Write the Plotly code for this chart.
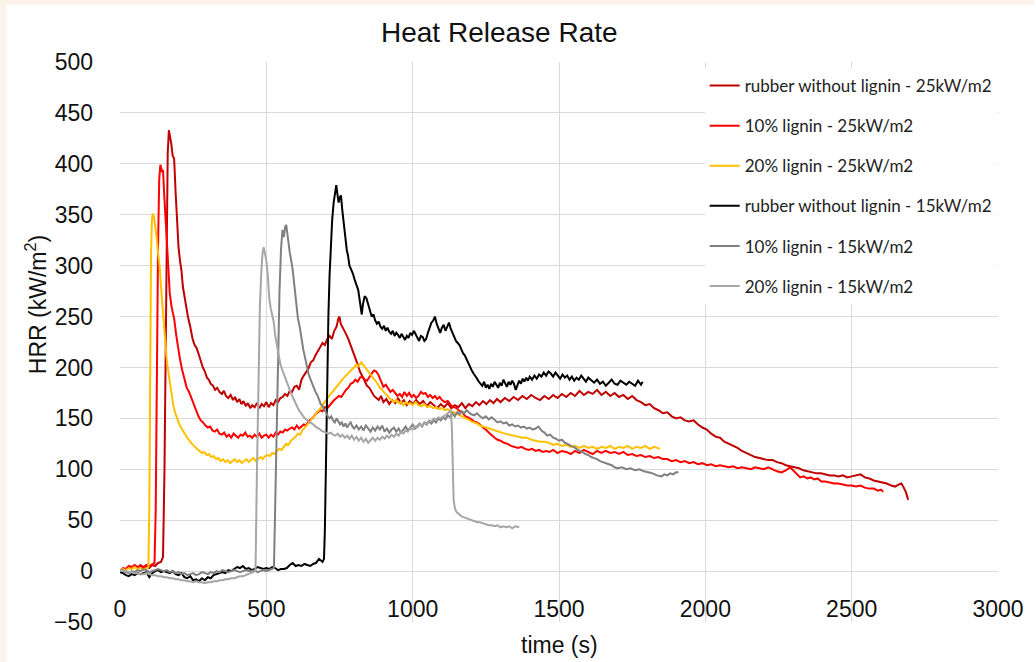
import plotly.graph_objects as go

# ---------------- data (time s, HRR kW/m2) ----------------
rubber_25 = [(0,0),(10,2),(20,1),(30,4),(40,3),(50,5),(60,3),(70,6),(80,4),(90,5),(100,3),(110,6),(120,5),(130,8),(140,9),(147,14),(152,100),(156,220),(159,330),(163,410),(167,433),(171,428),(175,420),(180,408),(185,405),(190,372),(195,345),(200,318),(205,305),(210,295),(215,279),(220,270),(225,262),(232,250),(240,240),(248,228),(255,222),(262,219),(270,212),(277,205),(283,200),(290,196),(297,190),(303,188),(310,184),(318,182),(325,178),(332,180),(340,176),(348,174),(355,177),(362,172),(370,170),(378,173),(386,168),(393,171),(400,166),(408,169),(415,164),(422,167),(430,162),(437,165),(445,160),(452,163),(460,161),(468,165),(476,160),(484,164),(492,162),(500,166),(508,161),(516,165),(524,163),(532,168),(540,166),(548,170),(556,171),(564,174),(572,172),(580,177),(588,176),(596,181),(604,182),(612,178),(620,188),(628,192),(636,196),(644,199),(652,205),(660,207),(668,212),(676,216),(684,219),(692,224),(700,222),(708,228),(716,231),(724,228),(732,236),(740,240),(746,248),(750,250),(754,243),(760,240),(766,236),(772,233),(780,228),(788,222),(796,217),(804,210),(812,203),(820,196),(828,191),(836,186),(844,182),(852,180),(860,176),(868,172),(876,170),(884,168),(892,172),(900,166),(910,169),(920,164),(930,168),(940,165),(950,170),(960,165),(970,168),(980,163),(990,167),(1000,164),(1012,168),(1024,164),(1036,167),(1048,162),(1060,166),(1072,163),(1084,160),(1096,164),(1108,161),(1120,165),(1132,160),(1144,163),(1156,161),(1168,165),(1180,160),(1192,164),(1204,162),(1216,166),(1228,163),(1240,167),(1252,164),(1264,168),(1276,165),(1288,169),(1300,166),(1315,170),(1330,167),(1345,171),(1360,168),(1375,172),(1390,169),(1405,173),(1420,170),(1435,168),(1450,172),(1465,169),(1480,173),(1495,170),(1510,174),(1525,171),(1540,175),(1555,172),(1570,177),(1585,173),(1600,176),(1615,174),(1630,178),(1645,173),(1660,176),(1675,172),(1690,175),(1705,171),(1720,173),(1735,169),(1750,172),(1765,168),(1780,166),(1795,163),(1810,164),(1825,160),(1840,158),(1855,155),(1870,156),(1885,152),(1900,150),(1915,151),(1930,148),(1945,147),(1960,148),(1975,144),(1990,141),(2005,139),(2020,135),(2035,132),(2050,131),(2065,127),(2080,125),(2095,123),(2110,121),(2125,118),(2140,116),(2155,114),(2170,112),(2185,111),(2200,110),(2215,109),(2230,109),(2245,107),(2260,106),(2275,104),(2290,103),(2305,102),(2320,101),(2335,99),(2350,98),(2365,97),(2380,96),(2395,96),(2410,95),(2425,94),(2440,94),(2455,93),(2470,94),(2485,92),(2500,93),(2515,94),(2530,95),(2545,92),(2560,91),(2575,89),(2590,88),(2605,87),(2620,86),(2635,84),(2648,83),(2660,85),(2670,86),(2678,82),(2686,77),(2693,70)]

lignin10_25 = [(0,0),(10,3),(20,2),(30,5),(40,4),(50,6),(60,4),(70,5),(80,3),(90,6),(100,5),(110,7),(118,8),(122,60),(126,200),(130,320),(134,385),(138,399),(143,393),(147,394),(151,370),(155,350),(160,315),(165,292),(170,273),(176,260),(185,248),(192,232),(198,220),(205,208),(212,198),(220,188),(228,180),(236,176),(244,170),(252,163),(260,158),(268,152),(276,148),(284,146),(292,143),(300,141),(308,142),(316,138),(324,137),(332,139),(340,135),(348,134),(356,136),(364,132),(372,134),(380,131),(388,135),(396,133),(404,131),(412,134),(420,133),(428,136),(436,132),(444,133),(452,131),(460,134),(468,132),(476,135),(484,131),(492,133),(500,134),(508,131),(516,134),(524,132),(532,136),(540,134),(548,137),(556,136),(564,139),(572,138),(580,140),(588,141),(596,139),(604,143),(612,140),(620,142),(628,144),(636,143),(644,147),(652,149),(660,151),(668,154),(676,156),(684,158),(692,157),(700,161),(708,160),(716,163),(724,165),(732,168),(740,170),(748,172),(756,171),(764,175),(772,178),(780,180),(788,184),(796,185),(804,188),(812,186),(820,190),(828,191),(836,188),(844,187),(852,191),(860,194),(868,197),(876,196),(884,192),(892,186),(900,181),(908,183),(916,179),(924,176),(932,178),(940,175),(948,172),(956,174),(964,171),(972,176),(980,172),(988,175),(996,171),(1004,173),(1012,170),(1020,172),(1028,176),(1036,174),(1044,175),(1052,171),(1060,173),(1068,170),(1076,172),(1084,169),(1092,171),(1100,168),(1110,166),(1120,167),(1130,163),(1140,161),(1150,160),(1160,157),(1170,156),(1180,152),(1190,151),(1200,149),(1210,147),(1220,146),(1230,144),(1240,141),(1250,139),(1260,136),(1270,133),(1280,131),(1290,129),(1300,128),(1312,126),(1324,125),(1336,123),(1348,122),(1360,121),(1372,122),(1384,120),(1396,119),(1408,120),(1420,118),(1432,119),(1444,117),(1456,118),(1468,117),(1480,119),(1495,116),(1510,118),(1525,117),(1540,115),(1555,118),(1570,116),(1585,119),(1600,117),(1615,115),(1630,118),(1645,116),(1660,118),(1675,116),(1690,117),(1705,115),(1720,117),(1735,114),(1750,115),(1765,113),(1780,114),(1795,112),(1810,113),(1825,111),(1840,112),(1855,110),(1870,110),(1885,108),(1900,109),(1915,107),(1930,108),(1945,106),(1960,107),(1975,105),(1990,106),(2005,104),(2020,105),(2035,103),(2050,104),(2065,103),(2080,102),(2095,103),(2110,101),(2125,102),(2140,101),(2155,100),(2170,102),(2185,101),(2200,100),(2215,102),(2230,100),(2245,98),(2260,97),(2275,99),(2290,102),(2300,99),(2312,95),(2324,92),(2336,93),(2348,91),(2360,92),(2372,90),(2384,91),(2396,88),(2410,88),(2425,87),(2440,86),(2455,86),(2470,85),(2485,84),(2500,84),(2515,83),(2530,84),(2545,82),(2560,81),(2575,81),(2590,79),(2600,80),(2608,78)]

lignin20_25 = [(0,0),(10,2),(20,1),(30,3),(40,2),(50,4),(60,2),(70,3),(80,1),(90,3),(97,4),(100,60),(103,200),(106,310),(109,345),(112,351),(116,348),(120,340),(125,328),(130,312),(136,298),(142,272),(147,253),(153,228),(159,210),(165,196),(170,185),(176,172),(182,163),(188,156),(194,150),(200,146),(208,141),(216,137),(224,134),(232,130),(240,127),(248,124),(256,122),(264,120),(272,118),(280,116),(288,117),(296,114),(304,115),(312,112),(320,113),(328,110),(336,111),(344,108),(352,110),(360,107),(368,109),(376,106),(384,108),(392,110),(400,107),(408,109),(416,106),(424,108),(432,110),(440,107),(448,109),(456,111),(464,108),(472,110),(480,112),(488,110),(496,113),(504,114),(512,113),(520,116),(528,115),(536,118),(544,120),(552,119),(560,122),(568,125),(576,124),(584,128),(592,130),(600,132),(608,135),(616,134),(624,139),(632,141),(640,144),(648,146),(656,150),(664,152),(672,156),(680,158),(688,161),(696,165),(704,168),(712,171),(720,174),(728,177),(736,180),(744,183),(752,186),(760,189),(768,191),(776,193),(784,196),(792,198),(800,200),(808,203),(816,201),(824,205),(832,202),(840,199),(848,196),(856,193),(864,190),(872,188),(880,184),(888,180),(896,178),(904,175),(912,173),(920,170),(928,168),(936,166),(944,168),(952,165),(960,166),(968,163),(976,166),(984,164),(992,165),(1000,163),(1010,166),(1020,163),(1030,162),(1040,164),(1050,161),(1060,162),(1070,160),(1080,161),(1090,159),(1100,160),(1110,158),(1120,159),(1130,157),(1140,156),(1150,155),(1160,153),(1170,152),(1180,150),(1190,149),(1200,147),(1210,146),(1220,145),(1230,143),(1240,142),(1250,141),(1260,140),(1270,139),(1280,138),(1290,137),(1300,136),(1315,135),(1330,134),(1345,133),(1360,132),(1375,131),(1390,131),(1405,129),(1420,128),(1435,127),(1450,127),(1465,126),(1480,124),(1495,125),(1510,123),(1525,124),(1540,122),(1555,123),(1570,121),(1585,123),(1600,121),(1615,122),(1630,120),(1645,122),(1660,121),(1675,123),(1690,120),(1705,122),(1720,121),(1735,123),(1750,120),(1765,122),(1780,121),(1795,123),(1810,120),(1825,122),(1845,120)]

rubber_15 = [(0,-1),(10,-2),(20,-4),(30,-5),(40,-3),(50,-4),(60,-2),(70,-3),(80,-2),(90,-1),(100,-6),(110,-2),(120,0),(130,1),(140,-1),(150,0),(160,-1),(170,-2),(180,0),(190,-3),(200,-4),(210,-2),(220,-6),(230,-7),(240,-5),(250,-9),(260,-8),(270,-10),(280,-7),(290,-9),(300,-6),(310,-7),(320,-4),(330,-3),(340,-2),(350,-1),(360,-2),(370,1),(380,0),(390,2),(400,4),(410,3),(420,5),(430,2),(440,3),(450,1),(460,2),(470,4),(480,3),(490,2),(500,3),(510,2),(520,4),(530,3),(540,1),(550,2),(560,2),(570,3),(580,6),(590,8),(600,5),(610,6),(620,5),(630,7),(640,6),(650,5),(660,7),(670,8),(680,12),(686,10),(692,9),(697,12),(700,40),(704,110),(708,190),(712,250),(716,290),(720,320),(725,345),(730,362),(735,372),(739,379),(743,370),(747,362),(751,367),(755,369),(759,356),(763,345),(767,340),(771,327),(775,315),(779,310),(784,300),(790,296),(796,292),(802,286),(808,280),(814,276),(818,268),(822,258),(826,252),(830,262),(836,270),(842,268),(848,262),(854,255),(860,250),(866,252),(872,246),(878,243),(884,245),(890,240),(896,238),(902,241),(908,236),(914,239),(920,235),(926,233),(932,236),(938,231),(944,234),(950,232),(956,229),(962,233),(968,230),(974,227),(980,231),(986,229),(992,234),(998,232),(1004,236),(1010,233),(1016,229),(1022,226),(1028,231),(1034,230),(1040,226),(1046,228),(1052,234),(1058,240),(1064,244),(1070,246),(1076,250),(1082,243),(1088,238),(1094,234),(1100,239),(1106,242),(1112,236),(1118,240),(1124,244),(1130,238),(1136,234),(1142,231),(1148,226),(1154,224),(1160,222),(1166,218),(1172,214),(1178,212),(1184,208),(1190,204),(1196,200),(1202,197),(1208,194),(1214,192),(1220,189),(1226,186),(1232,184),(1238,182),(1244,186),(1250,180),(1256,183),(1262,179),(1268,184),(1274,181),(1280,186),(1286,183),(1292,180),(1298,185),(1304,182),(1310,188),(1316,184),(1322,181),(1328,186),(1334,183),(1340,187),(1346,184),(1352,178),(1358,183),(1364,187),(1370,184),(1376,189),(1382,186),(1388,190),(1394,187),(1400,191),(1408,188),(1416,192),(1424,189),(1432,193),(1440,191),(1448,195),(1456,192),(1464,196),(1472,194),(1480,191),(1488,195),(1496,192),(1504,189),(1512,193),(1520,190),(1528,192),(1536,188),(1544,191),(1552,187),(1560,190),(1568,188),(1576,192),(1584,189),(1592,186),(1600,190),(1610,187),(1620,185),(1630,188),(1640,184),(1650,186),(1660,182),(1670,185),(1680,188),(1690,184),(1700,183),(1710,187),(1720,185),(1730,183),(1740,186),(1750,184),(1760,182),(1770,187),(1780,183),(1786,186)]

lignin10_15 = [(0,0),(10,1),(20,-1),(30,-2),(40,0),(50,-1),(60,1),(70,0),(80,2),(90,1),(100,-1),(110,0),(120,1),(130,2),(140,1),(150,0),(160,1),(170,-1),(180,0),(190,-2),(200,-1),(210,-3),(220,-2),(230,-4),(240,-3),(250,-2),(260,-4),(270,-3),(280,-1),(290,-2),(300,-3),(310,-1),(320,-2),(330,0),(340,-1),(350,1),(360,0),(370,-1),(380,0),(390,1),(400,0),(410,-1),(420,0),(430,1),(440,0),(450,0),(460,1),(470,-1),(480,0),(490,1),(500,0),(510,1),(520,2),(526,3),(530,60),(535,140),(540,220),(545,275),(550,315),(555,335),(560,328),(564,338),(568,340),(572,330),(576,320),(580,313),(585,305),(590,296),(596,280),(602,262),(608,248),(614,240),(620,228),(626,218),(632,210),(638,200),(644,194),(650,189),(656,184),(662,180),(668,176),(674,173),(680,168),(686,164),(692,162),(698,158),(704,156),(710,152),(716,150),(722,152),(728,148),(734,146),(740,150),(746,147),(752,144),(758,146),(764,142),(770,145),(776,141),(782,144),(788,146),(794,142),(800,140),(808,143),(816,139),(824,142),(832,138),(840,143),(848,140),(856,137),(864,141),(872,138),(880,142),(888,139),(896,143),(904,137),(912,140),(920,136),(928,139),(936,141),(944,137),(952,140),(960,136),(968,139),(976,142),(984,138),(992,141),(1000,144),(1008,140),(1016,143),(1024,145),(1032,142),(1040,146),(1048,144),(1056,147),(1064,145),(1072,148),(1080,146),(1088,150),(1096,148),(1104,151),(1112,149),(1120,153),(1128,151),(1136,155),(1144,152),(1152,156),(1160,154),(1168,157),(1176,155),(1184,158),(1192,156),(1200,154),(1210,153),(1220,155),(1230,152),(1240,150),(1250,152),(1260,149),(1270,151),(1280,148),(1290,146),(1300,147),(1310,145),(1320,146),(1330,143),(1340,144),(1350,142),(1360,143),(1370,141),(1380,142),(1390,140),(1400,141),(1410,139),(1420,140),(1430,142),(1440,138),(1450,136),(1460,133),(1470,134),(1480,131),(1490,130),(1500,128),(1510,129),(1520,126),(1530,125),(1540,123),(1550,122),(1560,120),(1570,118),(1580,117),(1590,115),(1600,114),(1610,112),(1620,111),(1630,110),(1640,108),(1650,107),(1660,106),(1670,105),(1680,104),(1690,102),(1700,101),(1715,102),(1730,100),(1745,101),(1760,99),(1775,100),(1790,98),(1805,97),(1820,96),(1835,94),(1850,93),(1860,95),(1870,94),(1880,96),(1890,95),(1900,97),(1908,97)]

lignin20_15 = [(0,0),(10,1),(20,0),(30,-1),(40,-1),(50,-2),(60,-2),(70,-3),(80,-3),(90,-2),(100,-3),(110,-4),(120,-4),(130,-5),(140,-5),(150,-6),(160,-6),(170,-7),(180,-7),(190,-8),(200,-8),(210,-9),(220,-9),(230,-10),(240,-10),(250,-11),(260,-10),(270,-11),(280,-11),(290,-12),(300,-11),(310,-11),(320,-10),(330,-10),(340,-9),(350,-9),(360,-8),(370,-8),(380,-7),(390,-7),(400,-6),(410,-5),(420,-5),(430,-4),(440,-3),(450,-2),(458,-1),(463,0),(468,100),(473,200),(478,260),(483,295),(487,312),(491,318),(495,312),(500,305),(505,290),(510,268),(515,258),(520,252),(525,245),(530,232),(536,222),(542,212),(548,203),(554,198),(560,193),(566,188),(572,183),(578,179),(584,175),(590,171),(596,167),(602,163),(608,160),(614,157),(620,154),(626,152),(632,150),(640,148),(648,146),(656,145),(664,143),(672,141),(680,140),(688,138),(696,137),(704,136),(712,135),(720,136),(728,134),(736,133),(744,135),(752,132),(760,134),(768,131),(776,133),(784,130),(792,133),(800,129),(808,132),(816,128),(824,131),(832,127),(840,130),(848,126),(856,129),(864,131),(872,128),(880,131),(888,129),(896,132),(904,130),(912,133),(920,131),(928,134),(936,132),(944,135),(952,133),(960,137),(968,135),(976,138),(984,137),(992,140),(1000,139),(1008,142),(1016,141),(1024,144),(1032,143),(1040,146),(1048,145),(1056,148),(1064,147),(1072,150),(1080,149),(1088,151),(1096,150),(1104,152),(1112,153),(1120,155),(1126,157),(1131,158),(1134,140),(1137,100),(1140,70),(1144,62),(1150,58),(1158,56),(1166,54),(1174,53),(1182,52),(1190,51),(1200,50),(1210,49),(1220,48),(1230,48),(1240,47),(1250,46),(1260,45),(1270,45),(1280,44),(1290,45),(1300,43),(1310,44),(1320,43),(1330,44),(1340,42),(1350,44),(1360,43),(1364,43)]

series_names = ["rubber without lignin - 25kW/m2", "10% lignin - 25kW/m2", "20% lignin - 25kW/m2",
                "rubber without lignin - 15kW/m2", "10% lignin - 15kW/m2", "20% lignin - 15kW/m2"]
series_data = [rubber_25, lignin10_25, lignin20_25, rubber_15, lignin10_15, lignin20_15]
series_colors = ["#C00000", "#FF0000", "#FFC000", "#000000", "#808080", "#A6A6A6"]

x_ticks = [0, 500, 1000, 1500, 2000, 2500, 3000]
y_ticks = [-50, 0, 50, 100, 150, 200, 250, 300, 350, 400, 450, 500]

# ---------------- figure ----------------
W, H = 1036, 662
L, R, T, B = 120, 36, 62, 40
PW, PH = W - L - R, H - T - B

def px_x(p):
    return (p - L) / PW

def px_y(p):
    return (H - B - p) / PH

fig = go.Figure()
for i, (name, data, color) in enumerate(zip(series_names, series_data, series_colors)):
    t = [d[0] for d in data]
    v = [d[1] for d in data]
    fig.add_trace(go.Scatter(x=t, y=v, mode="lines", name=name,
                             legendgroup=f"g{i}",
                             line=dict(color=color, width=2)))

grid = "#D9D9D9"
axis_font = dict(family="Liberation Sans, Arial, sans-serif", size=23, color="#111111")

fig.update_layout(
    width=W, height=H,
    margin=dict(l=L, r=R, t=T, b=B, pad=0),
    paper_bgcolor="white", plot_bgcolor="white",
    showlegend=True,
    legend=dict(x=px_x(706), y=px_y(68), xanchor="left", yanchor="top",
                bgcolor="white", borderwidth=0,
                font=dict(family="Lato, Open Sans, sans-serif", size=17, color="#222222"),
                tracegroupgap=15, itemwidth=30),
    xaxis=dict(range=[0, 3000], tickvals=x_ticks, showgrid=True, gridcolor=grid, gridwidth=1.3,
               zeroline=False, showline=False, ticks="", tickfont=axis_font,
               anchor="free", position=px_y(571), ticklabelstandoff=22),
    yaxis=dict(range=[-50, 500], tickvals=y_ticks, showgrid=True, gridcolor=grid, gridwidth=1.3,
               zeroline=False, showline=False, ticks="", tickfont=axis_font,
               ticklabelstandoff=26),
    shapes=[
        dict(type="rect", xref="paper", yref="paper", x0=px_x(0), x1=px_x(6), y0=px_y(H), y1=px_y(0),
             fillcolor="#FDF3EA", line=dict(width=0), layer="below"),
        dict(type="rect", xref="paper", yref="paper", x0=px_x(0), x1=px_x(W), y0=px_y(5), y1=px_y(0),
             fillcolor="#FDF3EA", line=dict(width=0), layer="below"),
    ],
    annotations=[
        dict(text="Heat Release Rate", xref="paper", yref="paper", x=px_x(500), y=px_y(33),
             xanchor="center", yanchor="middle", showarrow=False,
             font=dict(family="Liberation Sans Narrow, Arial Narrow, sans-serif", size=28, color="#111111")),
        dict(text="HRR (kW/m<sup>2</sup>)", xref="paper", yref="paper", x=px_x(36), y=px_y(305),
             xanchor="center", yanchor="middle", showarrow=False, textangle=-90,
             font=dict(family="Liberation Sans, Arial, sans-serif", size=23, color="#111111")),
        dict(text="time (s)", xref="paper", yref="paper", x=px_x(560), y=px_y(645),
             xanchor="center", yanchor="middle", showarrow=False,
             font=dict(family="Liberation Sans, Arial, sans-serif", size=23, color="#111111")),
    ],
)

fig.write_html("out.html")
